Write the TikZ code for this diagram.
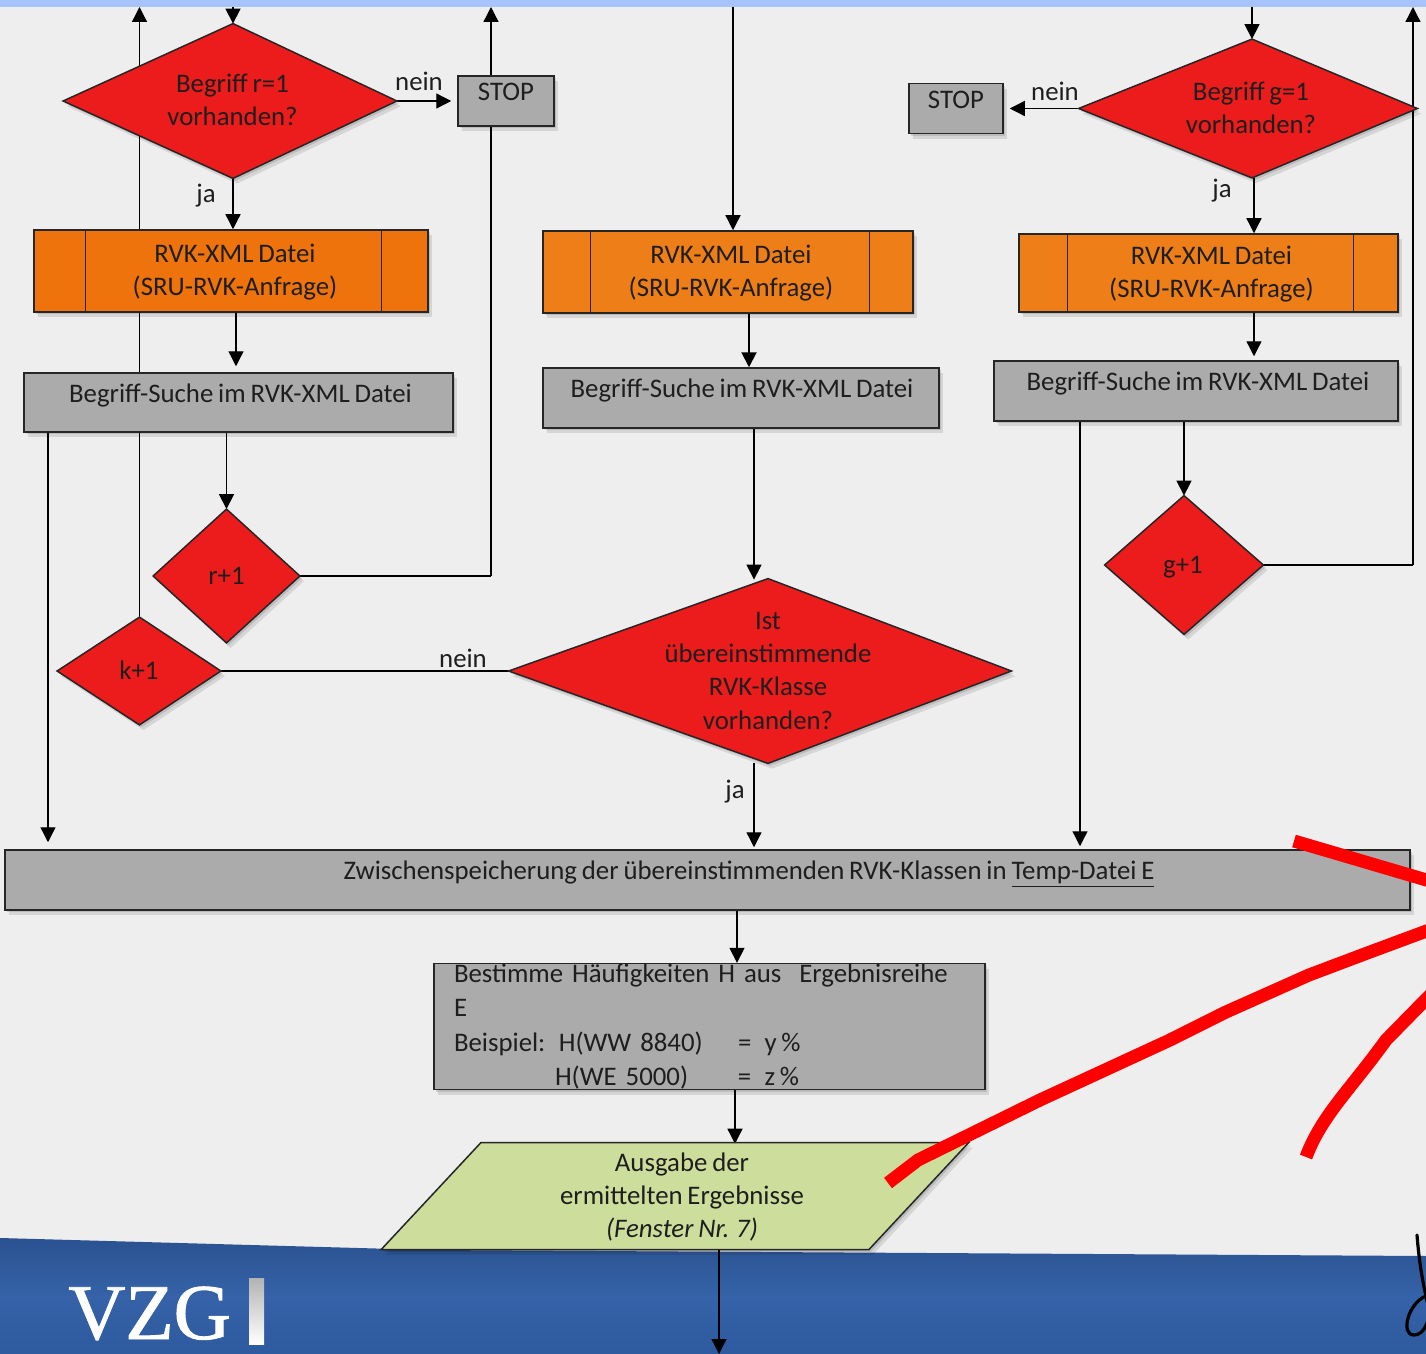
\documentclass[tikz,border=0pt]{standalone}
\usepackage{fontspec}
\setmainfont{Carlito}[WordSpace=0.8]
\newfontfamily\vzgfont{Liberation Serif}[FakeBold=1.2]
\usetikzlibrary{shapes.geometric,arrows.meta,shadows}
\pgfdeclarelayer{base}
\pgfdeclarelayer{wires}
\pgfdeclarelayer{shapes}
\pgfsetlayers{base,wires,shapes,main}
\definecolor{pagebg}{HTML}{EEEEEE}
\definecolor{topstrip}{HTML}{A8C4FF}
\definecolor{redbox}{HTML}{EC1C1C}
\definecolor{orangeA}{HTML}{EE730C}
\definecolor{orangeB}{HTML}{EE7F18}
\definecolor{greybox}{HTML}{ABABAB}
\definecolor{greenbox}{HTML}{CDDD9B}
\definecolor{bandtop}{HTML}{2A5290}
\definecolor{bandmid}{HTML}{3562A8}
\definecolor{bandlow}{HTML}{2E5B9F}
\definecolor{txt}{HTML}{1E1E1E}
\definecolor{marker}{HTML}{FF0000}
% zero-size centred text: optional horizontal shift (in reference pixels, as pt), lowered to the node centre
\newcommand{\zt}[2][0pt]{\makebox[0pt]{\hspace*{#1}\smash{\raisebox{-4.4pt}{\begin{tabular}{@{}c@{}}#2\end{tabular}}}}}
\newcommand{\ztr}[2][0pt]{\makebox[0pt]{\hspace*{#1}\smash{\raisebox{-0.1pt}{\begin{tabular}{@{}c@{}}#2\end{tabular}}}}}
\newcommand{\kite}[2]{\begin{pgfonlayer}{shapes}\path[kitepath] (#1.west) -- ([xshift=#2]#1.north) -- (#1.east) -- ([xshift=#2]#1.south) -- cycle;\end{pgfonlayer}}
\tikzset{
  softshadow/.style={
    drop shadow={shadow xshift=1pt,shadow yshift=-1.2pt,opacity=.12,fill=black},
    drop shadow={shadow xshift=2pt,shadow yshift=-2.6pt,opacity=.10,fill=black}},
  box/.style={draw=black!85,line width=.75pt,text=txt,inner sep=0pt,softshadow},
  greyrect/.style={box,rectangle,fill=greybox},
  orange1/.style={box,rectangle,fill=orangeA},
  orange2/.style={box,rectangle,fill=orangeB},
  dia/.style={diamond,shape aspect=1,text=txt,inner sep=0pt},
  kitepath/.style={draw=black!85,line width=.75pt,fill=redbox,softshadow},
  wire/.style={draw=black,line width=.65pt},
  arr/.style={wire,-{Triangle[length=7.5pt,width=7.5pt]}},
  lbl/.style={text=txt,inner sep=0pt},
  stroke/.style={draw=marker,line width=6.5pt,line join=round},
}
\begin{document}
\begin{tikzpicture}[x=0.5pt,y=-0.5pt,font=\fontsize{13.4}{16.6}\selectfont]
\useasboundingbox (0,0) rectangle (1426,1354);
\begin{pgfonlayer}{base}
  \fill[pagebg] (0,0) rectangle (1426,1354);
  \fill[topstrip] (0,0) rectangle (1426,7);
  \shade[top color=bandtop,bottom color=bandlow,middle color=bandmid]
    (0,1238) -- (430,1250) -- (1426,1256) -- (1426,1354) -- (0,1354) -- cycle;
\end{pgfonlayer}

% free ends
\coordinate (inR) at (233,7);
\coordinate (upK) at (139.5,7);
\coordinate (upR) at (491,7);
\coordinate (inM) at (733,7);
\coordinate (inG) at (1252,7);
\coordinate (upG) at (1413,7);
\coordinate (outEnd) at (719,1354);

% red decision diamonds
\node[dia,minimum width=166.5pt,minimum height=77pt] (d1) at (230,101) {\zt[2.5pt]{Begriff r=1\\vorhanden?}};
\node[dia,minimum width=73pt,minimum height=66.5pt] (dr) at (226.5,576) {\zt{r+1}};
\node[dia,minimum width=81.5pt,minimum height=53.5pt] (dk) at (139,671) {\zt{k+1}};
\node[dia,minimum width=251pt,minimum height=92pt] (dm) at (760,671) {\zt[8pt]{Ist\\übereinstimmende\\RVK-Klasse\\vorhanden?}};
\node[dia,minimum width=169pt,minimum height=69pt] (dg) at (1248,108.5) {\zt[3pt]{Begriff g=1\\vorhanden?}};
\node[dia,minimum width=79pt,minimum height=69pt] (dp) at (1184,565) {\zt[-1pt]{g+1}};
\kite{d1}{1.5pt}
\kite{dr}{0pt}
\kite{dk}{0.25pt}
\kite{dm}{4pt}
\kite{dg}{2pt}
\kite{dp}{0pt}

% grey boxes
\node[greyrect,minimum width=48pt,minimum height=25pt] (s1) at (506,101) {\ztr{STOP}};
\node[greyrect,minimum width=47pt,minimum height=25pt] (s2) at (956,108.5) {\ztr{STOP}};
\node[greyrect,minimum width=214.5pt,minimum height=29.5pt] (g1) at (238.5,402.5) {\ztr[2pt]{Begriff-Suche im RVK-XML Datei}};
\node[greyrect,minimum width=198pt,minimum height=30pt] (g2) at (741,398) {\ztr[1pt]{Begriff-Suche im RVK-XML Datei}};
\node[greyrect,minimum width=202pt,minimum height=30pt] (g3) at (1196,391) {\ztr[2pt]{Begriff-Suche im RVK-XML Datei}};
\node[greyrect,minimum width=702.5pt,minimum height=30pt] (bar) at (707.5,880) {\ztr[41.5pt]{Zwischenspeicherung der übereinstimmenden RVK-Klassen in \underline{Temp-Datei E}}};
\node[greyrect,minimum width=275.5pt,minimum height=59.5pt,text width=255.5pt,align=left,font=\fontsize{13.4}{17.25}\selectfont] (hb) at (709.5,1026.5)
  {Bestimme Häufigkeiten H aus\ \ Ergebnisreihe E\\
   \makebox[142pt][l]{Beispiel: H(WW 8840)}=\ \,y\,\%\\
   \hspace*{50.5pt}\makebox[91.5pt][l]{H(WE 5000)}=\ \,z\,\%};

% orange file boxes
\node[orange1,minimum width=197pt,minimum height=41pt] (o1) at (231,271) {\zt[4pt]{RVK-XML Datei\\(SRU-RVK-Anfrage)}};
\node[orange2,minimum width=185pt,minimum height=41pt] (o2) at (728,272) {\zt[3pt]{RVK-XML Datei\\(SRU-RVK-Anfrage)}};
\node[orange2,minimum width=189.5pt,minimum height=39pt] (o3) at (1208.5,273) {\zt[3pt]{RVK-XML Datei\\(SRU-RVK-Anfrage)}};
\draw[wire,draw=black!85] ([xshift=26pt]o1.north west) -- ([xshift=26pt]o1.south west);
\draw[wire,draw=black!85] ([xshift=-23.5pt]o1.north east) -- ([xshift=-23.5pt]o1.south east);
\draw[wire,draw=black!85] ([xshift=24pt]o2.north west) -- ([xshift=24pt]o2.south west);
\draw[wire,draw=black!85] ([xshift=-22pt]o2.north east) -- ([xshift=-22pt]o2.south east);
\draw[wire,draw=black!85] ([xshift=24.5pt]o3.north west) -- ([xshift=24.5pt]o3.south west);
\draw[wire,draw=black!85] ([xshift=-22.5pt]o3.north east) -- ([xshift=-22.5pt]o3.south east);

% output parallelogram
\node[box,trapezium,trapezium left angle=47,trapezium right angle=133,fill=greenbox,
  inner xsep=97pt,inner ysep=26.75pt] (out) at (675,1196)
  {\zt[7pt]{Ausgabe der\\ermittelten Ergebnisse\\\textit{(Fenster Nr. 7)}}};

% connector labels
\node[lbl] (ln1) at (419,81) {nein};
\node[lbl] (lj1) at (206,196) {ja};
\node[lbl] (ln2) at (463,658) {nein};
\node[lbl] (lj2) at (735,792) {ja};
\node[lbl] (ln3) at (1055,91) {nein};
\node[lbl] (lj3) at (1222,191) {ja};

\coordinate (turnR) at (dr.east -| upR);
\coordinate (turnG) at (dp.east -| upG);

% connectors
\begin{pgfonlayer}{wires}
  \draw[arr] (inR) -- (inR |- d1.north);
  \draw[arr] (dk.north -| upK) -- (upK);
  \draw[arr] (d1.east) -- ([xshift=-3pt]s1.west |- d1.east);
  \draw[wire] (dr.east) -- (turnR);
  \draw[arr] (turnR) -- (upR);
  \draw[arr] (d1.south -| 233,0) -- (o1.north -| 233,0);
  \draw[arr] (o1.south -| 236,0) -- ([yshift=3pt]g1.north -| 236,0);
  \draw[arr] (g1.south -| dr.north) -- (dr.north);
  \draw[arr] (g1.south -| 48,0) -- ([yshift=3.5pt]bar.north -| 48,0);
  \draw[wire] (dm.west) -- (dk.east);
  \draw[arr] (inM) -- (inM |- o2.north);
  \draw[arr,line width=1pt] (o2.south -| 749,0) -- (g2.north -| 749,0);
  \draw[arr] (g2.south -| 754,0) -- ([yshift=-.5pt]dm.north -| 754,0);
  \draw[arr] (dm.south -| 754,0) -- ([yshift=1pt]bar.north -| 754,0);
  \draw[arr] (g3.south -| 1080,0) -- ([yshift=1.5pt]bar.north -| 1080,0);
  \draw[arr] (g3.south -| dp.north) -- (dp.north);
  \draw[wire] (dp.east) -- (turnG);
  \draw[arr] (turnG) -- (upG);
  \draw[arr] (inG) -- (inG |- dg.north);
  \draw[arr] (dg.south -| 1254,0) -- (o3.north -| 1254,0);
  \draw[arr] (o3.south -| 1254,0) -- ([yshift=2pt]g3.north -| 1254,0);
  \draw[arr] (dg.west) -- ([xshift=3pt]s2.east);
  \draw[arr] (bar.south -| 737,0) -- (hb.north -| 737,0);
  \draw[arr] (hb.south -| 735,0) -- ([yshift=-1pt]out.north -| 735,0);
  \draw[arr] (out.south -| 719,0) -- (outEnd);
\end{pgfonlayer}

% logo
\node[inner sep=0pt,text=white,font=\vzgfont\fontsize{39.5}{40}\selectfont,anchor=base west] (vzg) at (68,1339) {VZG};
\shade[top color=black!30,bottom color=white] (249,1278) rectangle (264,1344);

% hand-drawn marks on top
\begin{scope}
  \clip (0,0) rectangle (1426,1354);
  \draw[stroke] (1294,841) -- (1440,884);
  \draw[stroke] (888,1183) -- (918,1160) -- (1040,1100) -- (1170,1040) -- (1226,1012)
     -- (1309,975) -- (1370,952) -- (1440,926);
  \draw[stroke] (1306,1157) .. controls (1322,1115) and (1350,1090) .. (1386,1040) -- (1440,985);
  \draw[black,line width=1.6pt,line cap=round] (1417,1235) .. controls (1419,1260) and (1422,1280) .. (1428,1305);
  \draw[black,line width=1.6pt] (1426,1296) .. controls (1408,1303) and (1400,1335) .. (1414,1335) .. controls (1424,1335) and (1428,1322) .. (1430,1312);
\end{scope}
\end{tikzpicture}
\end{document}
